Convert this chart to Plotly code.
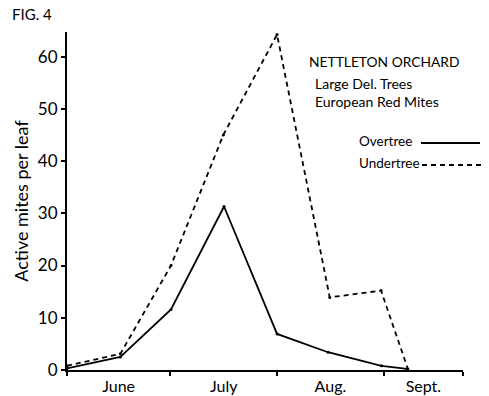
import plotly.graph_objects as go

# Sampling dates, in days after June 1
days = [0, 15.5, 30.2, 45.6, 61, 75.8, 91.3, 98.8]
overtree = [0.3, 2.5, 11.6, 31.3, 6.9, 3.4, 0.8, 0.2]

days_under = [0, 15.5, 30.2, 45.4, 61, 76.3, 91.2, 99]
undertree = [0.8, 3.1, 20.0, 45.0, 64.2, 13.9, 15.2, 0.2]

# Month boundaries (days after June 1) and month labels
month_edges = [0, 30, 61, 92, 115]
month_names = ["June", "July", "Aug.", "Sept."]
month_centers = [(a + b) / 2 for a, b in zip(month_edges[:-1], month_edges[1:])]

y_ticks = [0, 10, 20, 30, 40, 50, 60]

W, H = 489, 396
L, R, T, B = 67, 26, 32, 26
FONT = "Lato, 'Open Sans', sans-serif"


def px(x):
    return (x - L) / (W - L - R)


def py(y):
    return (H - B - y) / (H - T - B)


fig = go.Figure()
fig.add_trace(go.Scatter(
    x=days, y=overtree, mode="lines+markers", name="Overtree",
    line=dict(color="black", width=1.8),
    marker=dict(size=3, color="black"), cliponaxis=False,
))
fig.add_trace(go.Scatter(
    x=days_under, y=undertree, mode="lines+markers", name="Undertree",
    line=dict(color="black", width=1.8, dash="5px,4px"),
    marker=dict(size=3, color="black"), cliponaxis=False,
))
# invisible trace carrying month labels on a second x axis
fig.add_trace(go.Scatter(x=month_centers, y=[None] * 4, xaxis="x2",
                         showlegend=False, hoverinfo="skip"))

fig.update_layout(
    width=W, height=H,
    margin=dict(l=L, r=R, t=T, b=B, autoexpand=False),
    paper_bgcolor="white", plot_bgcolor="white",
    showlegend=False,
    font=dict(family=FONT, color="black", size=14),
    xaxis=dict(
        range=[0, 115], tickvals=month_edges, ticktext=[""] * 5,
        showgrid=False, zeroline=False, showline=True, linecolor="black",
        linewidth=2, ticks="outside", ticklen=4, tickwidth=1.5, tickcolor="black",
        automargin=False,
    ),
    xaxis2=dict(
        range=[0, 115], overlaying="x", side="bottom", tickvals=month_centers,
        ticktext=month_names, showgrid=False, zeroline=False, showline=False,
        ticks="", tickfont=dict(size=16), matches="x", ticklabelstandoff=5,
        automargin=False,
    ),
    yaxis=dict(
        range=[0, 64.7], tickvals=y_ticks, showgrid=False, zeroline=False,
        showline=True, linecolor="black", linewidth=2, ticks="outside",
        ticklen=4, tickwidth=1.5, tickcolor="black", tickfont=dict(size=17),
        title=dict(text="Active mites per leaf", font=dict(size=18), standoff=5),
        automargin=False,
    ),
)

notes = [
    ("FIG. 4", 10, 14, 15),
    ("NETTLETON ORCHARD", 307, 61, 13.8),
    ("Large Del. Trees", 313, 83, 14),
    ("European Red Mites", 313, 101, 14),
    ("Overtree", 357, 141, 13.5),
    ("Undertree", 357, 163, 13.5),
]
for text, x, y, size in notes:
    fig.add_annotation(text=text, xref="paper", yref="paper", x=px(x), y=py(y),
                       xanchor="left", yanchor="middle", showarrow=False,
                       font=dict(size=size, family=FONT))

fig.add_shape(type="line", xref="paper", yref="paper", x0=px(421), x1=px(480),
              y0=py(143), y1=py(143), line=dict(color="black", width=1.8))
fig.add_shape(type="line", xref="paper", yref="paper", x0=px(422), x1=px(482),
              y0=py(165), y1=py(165), line=dict(color="black", width=1.8, dash="5px,4px"))

fig.write_html("out.html")
